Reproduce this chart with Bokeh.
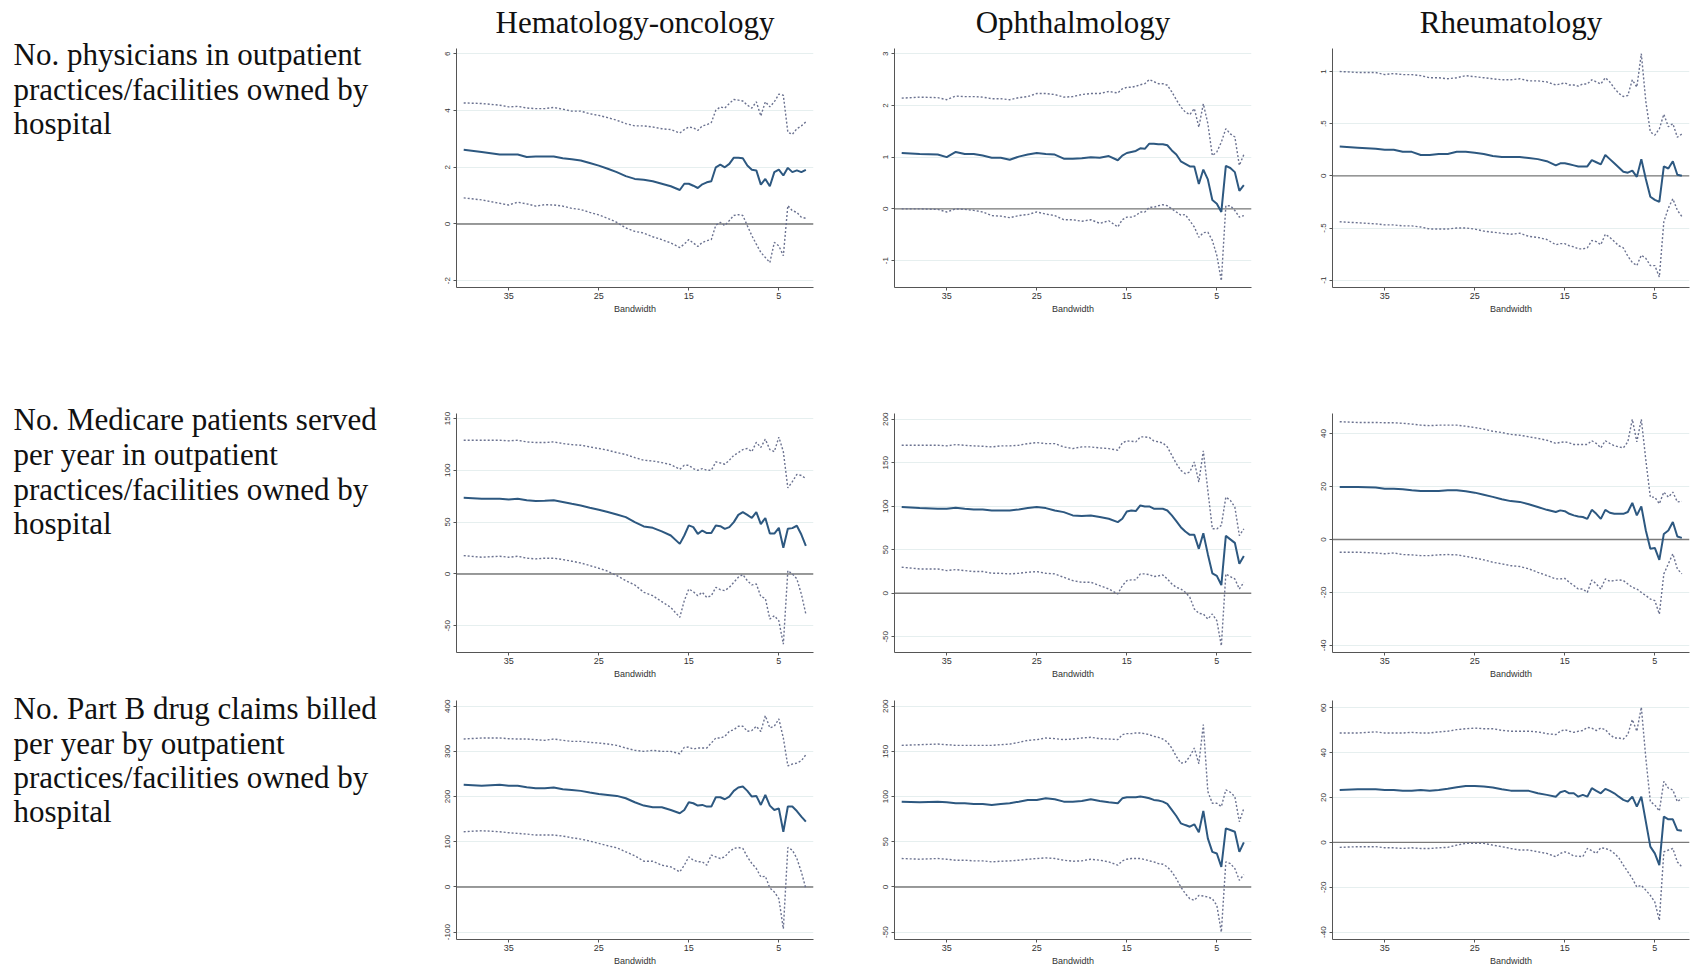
from bokeh.plotting import figure
from bokeh.layouts import row, column
from bokeh.models import Range1d, Span, Label, FixedTicker
from bokeh.embed import file_html
from bokeh.resources import INLINE

# ---------------- data ----------------
BANDWIDTH = [40, 38, 36, 35, 34, 33, 32, 31, 30, 29, 28, 27, 26, 25, 24, 23, 22, 21, 20, 19,
             18, 17, 16, 15.5, 15, 14.5, 14, 13.5, 13, 12.5, 12, 11.5, 11, 10.5, 10, 9.5, 9, 8.5,
             8, 7.5, 7, 6.5, 6, 5.5, 5, 4.5, 4, 3.5, 3, 2.5, 2]
X_TICKS = [35, 25, 15, 5]

COLUMN_TITLES = ["Hematology-oncology", "Ophthalmology", "Rheumatology"]
ROW_LABELS = [
    ["No. physicians in outpatient", "practices/facilities owned by", "hospital"],
    ["No. Medicare patients served", "per year in outpatient", "practices/facilities owned by", "hospital"],
    ["No. Part B drug claims billed", "per year by outpatient", "practices/facilities owned by", "hospital"],
]

# Row 1: physicians
HEM_PHYS_EST = [2.62, 2.54, 2.45, 2.45, 2.45, 2.36, 2.38, 2.38, 2.38, 2.32, 2.28, 2.24, 2.15, 2.06, 1.95,
                1.83, 1.69, 1.59, 1.56, 1.51, 1.42, 1.33, 1.20, 1.42, 1.42, 1.35, 1.27, 1.40, 1.47, 1.51,
                2.00, 2.09, 2.00, 2.12, 2.34, 2.34, 2.32, 2.06, 1.91, 1.89, 1.39, 1.59, 1.33, 1.83, 1.92,
                1.71, 1.98, 1.83, 1.89, 1.83, 1.91]
HEM_PHYS_UB = [4.27, 4.25, 4.19, 4.13, 4.15, 4.09, 4.07, 4.07, 4.11, 4.05, 3.98, 3.98, 3.89, 3.83, 3.75,
               3.66, 3.54, 3.46, 3.46, 3.42, 3.36, 3.33, 3.21, 3.33, 3.42, 3.39, 3.30, 3.46, 3.50, 3.58,
               4.01, 4.13, 4.09, 4.25, 4.39, 4.37, 4.34, 4.19, 4.09, 4.31, 3.81, 4.31, 4.13, 4.31, 4.58,
               4.54, 3.24, 3.16, 3.36, 3.46, 3.60]
HEM_PHYS_LB = [0.92, 0.85, 0.73, 0.67, 0.77, 0.71, 0.63, 0.68, 0.67, 0.63, 0.55, 0.51, 0.41, 0.32, 0.20,
               0.06, -0.14, -0.26, -0.32, -0.45, -0.55, -0.67, -0.83, -0.71, -0.55, -0.67, -0.79, -0.65,
               -0.59, -0.55, -0.04, 0.06, -0.06, 0.12, 0.30, 0.33, 0.30, -0.06, -0.41, -0.71, -1.00,
               -1.18, -1.36, -0.65, -0.77, -1.12, 0.65, 0.47, 0.41, 0.24, 0.20]

OPH_PHYS_EST = [1.08, 1.06, 1.05, 1.00, 1.10, 1.06, 1.06, 1.03, 0.99, 0.99, 0.95, 1.01, 1.05, 1.08, 1.06,
                1.05, 0.97, 0.97, 0.98, 1.00, 0.99, 1.02, 0.94, 1.03, 1.08, 1.10, 1.12, 1.17, 1.16, 1.26,
                1.26, 1.25, 1.25, 1.23, 1.13, 1.05, 0.92, 0.87, 0.82, 0.82, 0.48, 0.76, 0.57, 0.17, 0.10,
                -0.06, 0.83, 0.79, 0.71, 0.35, 0.46]
OPH_PHYS_UB = [2.14, 2.16, 2.15, 2.11, 2.18, 2.17, 2.17, 2.16, 2.13, 2.13, 2.11, 2.15, 2.17, 2.23, 2.23,
               2.21, 2.16, 2.17, 2.21, 2.23, 2.23, 2.27, 2.24, 2.32, 2.35, 2.35, 2.37, 2.40, 2.42, 2.50,
               2.46, 2.42, 2.42, 2.39, 2.26, 2.11, 1.97, 1.87, 1.82, 1.94, 1.58, 2.03, 1.65, 1.03, 1.10,
               1.29, 1.55, 1.45, 1.39, 0.84, 1.05]
OPH_PHYS_LB = [0.00, 0.00, -0.01, -0.06, 0.00, -0.01, -0.03, -0.06, -0.13, -0.14, -0.17, -0.13, -0.11,
               -0.06, -0.10, -0.13, -0.21, -0.21, -0.24, -0.21, -0.28, -0.23, -0.35, -0.21, -0.16, -0.16,
               -0.13, -0.06, -0.06, 0.03, 0.03, 0.06, 0.08, 0.06, 0.00, -0.06, -0.12, -0.11, -0.23, -0.35,
               -0.55, -0.46, -0.45, -0.61, -0.90, -1.39, 0.06, 0.06, -0.03, -0.16, -0.13]

RHE_PHYS_EST = [0.28, 0.27, 0.26, 0.25, 0.25, 0.23, 0.23, 0.20, 0.20, 0.21, 0.21, 0.23, 0.23, 0.22, 0.21,
                0.19, 0.18, 0.18, 0.18, 0.17, 0.16, 0.14, 0.10, 0.12, 0.12, 0.11, 0.10, 0.09, 0.09, 0.09,
                0.15, 0.13, 0.11, 0.20, 0.16, 0.12, 0.08, 0.04, 0.03, 0.05, -0.01, 0.16, -0.03, -0.20,
                -0.23, -0.25, 0.09, 0.07, 0.14, 0.01, 0.00]
RHE_PHYS_UB = [1.00, 0.99, 0.99, 0.97, 0.98, 0.97, 0.97, 0.96, 0.94, 0.94, 0.93, 0.94, 0.96, 0.95, 0.94,
               0.93, 0.92, 0.92, 0.93, 0.91, 0.91, 0.90, 0.87, 0.88, 0.89, 0.87, 0.87, 0.86, 0.88, 0.88,
               0.92, 0.90, 0.88, 0.94, 0.90, 0.84, 0.79, 0.76, 0.77, 0.92, 0.85, 1.17, 0.71, 0.42, 0.39,
               0.45, 0.59, 0.47, 0.50, 0.37, 0.40]
RHE_PHYS_LB = [-0.44, -0.45, -0.46, -0.47, -0.47, -0.48, -0.48, -0.49, -0.51, -0.51, -0.51, -0.50, -0.50,
               -0.51, -0.53, -0.54, -0.55, -0.56, -0.55, -0.58, -0.59, -0.61, -0.66, -0.65, -0.65, -0.67,
               -0.68, -0.70, -0.70, -0.69, -0.62, -0.63, -0.66, -0.56, -0.59, -0.63, -0.67, -0.69, -0.77,
               -0.83, -0.86, -0.76, -0.79, -0.86, -0.86, -0.97, -0.44, -0.31, -0.22, -0.33, -0.39]

# Row 2: Medicare patients
HEM_PAT_EST = [73.5, 72.6, 72.6, 71.9, 72.6, 71.0, 70.3, 70.6, 71.0, 69.4, 67.7, 66.1, 63.9, 61.9, 59.7,
               57.4, 54.8, 50.0, 45.8, 44.5, 41.0, 37.1, 29.0, 37.1, 46.8, 45.2, 38.7, 41.9, 39.4, 39.4,
               46.8, 46.1, 43.5, 45.2, 50.0, 57.0, 59.7, 57.0, 54.0, 59.7, 48.0, 54.0, 39.0, 39.0, 44.5,
               25.2, 43.5, 44.2, 46.5, 38.0, 27.0]
HEM_PAT_UB = [129.0, 129.0, 129.0, 128.4, 129.0, 127.4, 126.8, 126.8, 127.4, 125.8, 124.8, 124.2, 122.6,
              121.0, 119.4, 117.1, 115.2, 112.3, 109.7, 109.0, 107.4, 105.5, 101.0, 104.8, 104.8, 101.6,
              100.0, 101.6, 100.0, 100.0, 108.1, 107.1, 105.8, 109.7, 114.5, 117.0, 120.0, 121.0, 118.0,
              127.0, 122.0, 130.0, 120.0, 118.0, 132.0, 118.0, 83.0, 89.0, 96.0, 95.0, 92.0]
HEM_PAT_LB = [17.7, 16.1, 17.1, 16.1, 17.1, 15.2, 14.5, 15.2, 15.2, 13.9, 12.3, 10.6, 8.1, 5.5, 2.6,
              -1.6, -6.5, -10.6, -17.7, -21.0, -26.8, -32.3, -41.9, -25.8, -14.5, -17.1, -21.0, -17.7,
              -22.6, -21.0, -12.9, -15.2, -16.1, -12.9, -8.1, -3.2, -0.6, -6.5, -10.6, -9.7, -21.9,
              -23.5, -43.5, -40.3, -45.2, -67.7, 3.2, 0.0, -4.8, -19.4, -38.7]

OPH_PAT_EST = [99.1, 97.9, 97.2, 97.2, 98.3, 97.2, 96.4, 96.4, 95.2, 95.2, 95.2, 96.4, 97.9, 99.1, 97.9,
               95.2, 93.3, 89.5, 88.7, 89.5, 87.6, 85.6, 81.8, 85.6, 94.1, 95.2, 94.5, 101.0, 99.8, 99.8,
               97.2, 97.2, 97.2, 95.2, 89.5, 82.9, 76.0, 71.0, 67.2, 67.2, 51.1, 69.1, 45.0, 23.0, 20.0,
               9.5, 66.0, 62.0, 58.0, 34.0, 43.0]
OPH_PAT_UB = [170.1, 170.1, 170.1, 169.4, 170.9, 170.1, 169.4, 169.0, 168.2, 169.4, 169.4, 170.1, 172.0,
              173.2, 172.0, 172.0, 168.2, 166.3, 168.2, 168.2, 167.0, 166.3, 164.4, 172.8, 175.1, 174.7,
              174.0, 179.7, 179.7, 179.0, 175.1, 174.0, 172.8, 168.2, 158.6, 149.0, 141.3, 137.5, 139.4,
              150.9, 127.9, 163.6, 118.3, 74.1, 74.1, 78.0, 110.6, 106.8, 99.1, 66.4, 74.1]
OPH_PAT_LB = [30.0, 28.0, 28.0, 26.1, 27.3, 26.1, 25.0, 25.0, 23.0, 23.0, 22.3, 23.0, 24.2, 25.0, 23.0,
              22.3, 18.4, 14.6, 12.7, 12.7, 8.8, 5.0, -0.8, 8.8, 14.6, 15.4, 15.4, 22.3, 22.3, 21.5,
              19.2, 20.0, 21.1, 16.5, 10.8, 6.9, 5.0, 1.2, -4.6, -18.0, -23.0, -23.8, -29.6, -23.8,
              -31.5, -60.3, 22.3, 19.2, 16.5, 5.0, 12.7]

RHE_PAT_EST = [19.8, 19.8, 19.6, 19.2, 19.2, 19.0, 18.6, 18.3, 18.3, 18.3, 18.6, 18.6, 18.2, 17.7, 16.9,
               16.1, 15.2, 14.5, 14.2, 13.3, 12.3, 11.2, 10.4, 11.0, 10.7, 9.7, 9.1, 8.7, 8.5, 7.8,
               11.2, 9.7, 7.8, 11.2, 10.1, 9.7, 9.7, 9.7, 10.4, 13.8, 9.1, 12.5, 3.4, -3.5, -3.2,
               -7.7, 2.1, 3.4, 6.6, 1.1, 0.6]
RHE_PAT_UB = [44.5, 44.2, 44.2, 44.1, 44.1, 43.9, 43.6, 43.2, 43.0, 43.2, 43.2, 43.2, 42.8, 42.3, 41.7,
              40.9, 40.4, 39.7, 39.4, 38.8, 38.2, 37.5, 36.3, 36.7, 36.9, 36.5, 35.9, 35.9, 35.9, 35.9,
              37.3, 36.3, 34.6, 37.3, 36.3, 35.4, 35.0, 34.6, 36.9, 45.4, 36.9, 45.4, 30.0, 16.0, 16.0,
              13.5, 17.9, 16.0, 17.9, 14.2, 14.4]
RHE_PAT_LB = [-4.8, -4.8, -5.1, -5.4, -5.1, -5.7, -5.8, -6.1, -6.1, -5.8, -5.7, -5.8, -6.4, -7.0, -7.7,
              -8.6, -9.2, -9.9, -10.2, -11.1, -12.4, -13.6, -14.9, -14.9, -14.7, -16.2, -17.4, -18.7,
              -18.7, -20.0, -15.3, -16.8, -18.7, -14.9, -15.8, -15.5, -15.3, -15.5, -16.8, -18.1, -18.7,
              -20.0, -21.2, -22.5, -23.1, -28.2, -13.0, -9.2, -5.4, -11.1, -13.0]

# Row 3: Part B drug claims
HEM_CLM_EST = [225.9, 223.7, 225.9, 223.7, 223.7, 220.7, 218.5, 218.5, 220.0, 216.3, 214.8, 212.6, 208.9,
               205.9, 203.7, 201.5, 196.3, 187.4, 180.0, 176.3, 176.3, 170.4, 163.0, 170.4, 187.4, 185.2,
               180.0, 181.5, 177.8, 177.8, 198.5, 198.5, 194.1, 200.0, 212.6, 220.0, 222.2, 212.6, 200.0,
               201.5, 181.5, 203.7, 180.0, 170.4, 174.0, 122.2, 178.0, 178.0, 168.0, 155.6, 144.4]
HEM_CLM_UB = [327.4, 329.6, 329.6, 328.1, 327.4, 327.4, 325.9, 324.4, 327.4, 324.4, 322.2, 322.2, 320.0,
              318.5, 316.3, 313.3, 307.4, 302.2, 300.0, 302.2, 300.0, 300.0, 294.8, 308.9, 309.6, 305.2,
              307.4, 307.4, 307.4, 318.5, 329.6, 329.6, 333.3, 344.4, 348.0, 355.6, 355.6, 344.4, 346.0,
              355.6, 344.0, 379.0, 352.0, 355.6, 372.0, 329.6, 268.0, 272.0, 274.0, 279.3, 292.6]
HEM_CLM_LB = [122.2, 124.4, 122.2, 120.0, 118.5, 117.0, 114.8, 114.8, 114.8, 112.6, 108.9, 105.9, 101.5,
              96.3, 91.1, 86.7, 77.8, 68.9, 57.0, 57.0, 48.1, 44.4, 33.3, 48.1, 66.7, 59.3, 55.6, 55.6,
              48.1, 70.4, 66.7, 63.0, 66.7, 77.8, 85.2, 87.4, 85.2, 66.7, 51.9, 40.7, 22.2, 23.7, -2.2,
              -11.1, -25.9, -92.6, 87.4, 81.5, 63.0, 33.3, -3.7]

OPH_CLM_EST = [94.4, 93.7, 94.4, 93.7, 92.6, 92.6, 91.9, 91.9, 90.7, 91.9, 92.6, 94.4, 96.3, 96.3, 98.1,
               97.0, 94.4, 94.4, 95.2, 97.0, 95.2, 93.7, 92.6, 98.1, 99.3, 99.3, 99.3, 100.0, 99.3, 98.1,
               96.3, 95.6, 94.4, 91.9, 85.2, 78.5, 70.4, 68.5, 66.7, 69.3, 60.4, 84.1, 53.7, 38.9, 37.0,
               22.2, 64.8, 63.0, 61.1, 38.9, 49.3]
OPH_CLM_UB = [156.7, 157.4, 158.1, 157.4, 156.7, 156.7, 156.7, 156.7, 156.7, 157.4, 158.1, 160.0, 162.2,
              163.0, 164.8, 164.1, 163.0, 163.7, 164.8, 165.6, 164.1, 163.7, 163.0, 168.5, 169.6, 169.6,
              170.4, 170.4, 169.6, 168.5, 166.7, 165.6, 163.7, 160.4, 153.7, 144.4, 137.0, 138.0, 144.4,
              153.7, 136.3, 179.6, 105.6, 92.6, 92.6, 88.9, 107.4, 104.8, 100.0, 72.2, 87.0]
OPH_CLM_LB = [31.5, 30.7, 31.5, 30.7, 29.6, 29.6, 28.9, 28.9, 27.8, 28.5, 28.9, 29.6, 30.7, 31.5, 32.2,
              31.5, 29.6, 28.5, 28.9, 30.7, 29.6, 27.8, 24.1, 28.9, 30.7, 31.5, 31.5, 31.5, 30.4, 28.9,
              27.8, 25.9, 25.2, 22.2, 16.7, 9.3, 0.0, -7.4, -13.0, -14.8, -9.3, -10.0, -11.1, -13.0,
              -20.4, -50.0, 27.8, 25.9, 20.4, 7.4, 13.7]

RHE_CLM_EST = [23.4, 23.7, 23.7, 23.4, 23.4, 23.0, 23.0, 23.4, 23.0, 23.4, 23.9, 24.6, 25.2, 25.2, 24.9,
               24.5, 23.7, 23.1, 23.0, 23.0, 21.9, 21.2, 20.4, 22.4, 23.0, 21.9, 21.9, 20.4, 21.2, 20.4,
               24.2, 23.0, 21.9, 23.9, 23.0, 21.9, 20.4, 19.0, 18.2, 20.4, 16.0, 20.4, 9.3, -1.9, -4.9,
               -10.1, 11.5, 10.3, 10.3, 5.5, 5.2]
RHE_CLM_UB = [48.8, 48.8, 49.3, 48.8, 48.8, 48.8, 49.1, 48.8, 48.8, 49.3, 49.6, 50.3, 50.7, 51.0, 50.7,
              50.7, 50.0, 49.6, 49.6, 49.6, 49.3, 48.5, 48.1, 49.6, 50.3, 49.6, 49.1, 49.6, 49.9, 51.3,
              51.0, 49.9, 51.0, 50.3, 48.1, 46.6, 46.6, 46.1, 48.1, 54.8, 49.6, 60.3, 37.6, 18.2, 16.7,
              14.0, 27.2, 24.2, 23.4, 18.2, 19.7]
RHE_CLM_LB = [-2.2, -1.9, -1.9, -2.4, -2.4, -2.7, -2.4, -2.7, -2.7, -2.4, -2.2, -1.2, -0.4, -0.4, -0.4,
              -1.2, -1.9, -2.7, -3.4, -3.4, -4.2, -4.9, -6.4, -4.9, -4.2, -4.9, -6.1, -6.1, -6.4, -2.7,
              -3.7, -4.9, -2.4, -2.7, -3.4, -4.9, -6.9, -10.1, -13.1, -16.1, -19.9, -19.1, -21.3, -23.6,
              -26.6, -34.8, -4.2, -3.4, -2.7, -8.7, -10.9]

# y-axis ticks and labels per panel
Y_TICKS = {
    "hem_phys": ([-2, 0, 2, 4, 6], ["-2", "0", "2", "4", "6"]),
    "oph_phys": ([-1, 0, 1, 2, 3], ["-1", "0", "1", "2", "3"]),
    "rhe_phys": ([-1, -0.5, 0, 0.5, 1], ["-1", "-.5", "0", ".5", "1"]),
    "hem_pat": ([-50, 0, 50, 100, 150], ["-50", "0", "50", "100", "150"]),
    "oph_pat": ([-50, 0, 50, 100, 150, 200], ["-50", "0", "50", "100", "150", "200"]),
    "rhe_pat": ([-40, -20, 0, 20, 40], ["-40", "-20", "0", "20", "40"]),
    "hem_clm": ([-100, 0, 100, 200, 300, 400], ["-100", "0", "100", "200", "300", "400"]),
    "oph_clm": ([-50, 0, 50, 100, 150, 200], ["-50", "0", "50", "100", "150", "200"]),
    "rhe_clm": ([-40, -20, 0, 20, 40, 60], ["-40", "-20", "0", "20", "40", "60"]),
}
Y_RANGES = {
    "hem_phys": (-2.24, 6.19), "oph_phys": (-1.52, 3.10), "rhe_phys": (-1.07, 1.22),
    "hem_pat": (-75.8, 154.8), "oph_pat": (-68.0, 206.6), "rhe_pat": (-42.7, 47.6),
    "hem_clm": (-116.3, 412.6), "oph_clm": (-58.1, 206.3), "rhe_clm": (-43.3, 63.3),
}

# ---------------- styling ----------------
SERIF = "Liberation Serif"
SANS = "Liberation Sans"
EST_COLOR = "#2d5880"
CI_COLOR = "#6b7290"
FRAME_W, FRAME_H = 357, 239
LEFT_W = 411
TITLE_H = 40
BORDER_L, BORDER_R, BORDER_B = 45, 36, 32
ROW_TOPS = [8, 94, 16]
TOTAL_H = TITLE_H + sum(ROW_TOPS) + 3 * (FRAME_H + BORDER_B)


def blank_fig(w, h):
    f = figure(width=w, height=h, x_range=Range1d(0, w), y_range=Range1d(h, 0),
               output_backend="svg", toolbar_location=None, title_location=None,
               x_axis_location=None, y_axis_location=None, min_border=0,
               outline_line_color=None, border_fill_color="white", background_fill_color="white")
    f.grid.visible = False
    return f


def panel(key, est, ub, lb, top, right):
    ylo, yhi = Y_RANGES[key]
    ticks, labels = Y_TICKS[key]
    p = figure(frame_width=FRAME_W, frame_height=FRAME_H,
               x_range=Range1d(40.8, 1.15), y_range=Range1d(ylo, yhi),
               output_backend="svg", toolbar_location=None, title_location=None,
               min_border_left=BORDER_L, min_border_right=right,
               min_border_top=top, min_border_bottom=BORDER_B,
               background_fill_color="white", border_fill_color="white",
               outline_line_color=None)
    p.xgrid.visible = False
    p.ygrid.grid_line_color = "#e6efef"
    p.ygrid.grid_line_width = 1
    p.ygrid.ticker = FixedTicker(ticks=ticks)

    zero = Span(location=0, dimension="width", line_color="#7a7a7a", line_width=1.4, level="underlay")
    p.add_layout(zero)

    p.line(BANDWIDTH, ub, line_color=CI_COLOR, line_width=1.4, line_dash="2 2")
    p.line(BANDWIDTH, lb, line_color=CI_COLOR, line_width=1.4, line_dash="2 2")
    p.line(BANDWIDTH, est, line_color=EST_COLOR, line_width=2)

    xa = p.xaxis[0]
    xa.ticker = FixedTicker(ticks=X_TICKS)
    xa.axis_label = "Bandwidth"
    xa.axis_label_text_font = SANS
    xa.axis_label_text_font_style = "normal"
    xa.axis_label_text_font_size = "9px"
    xa.axis_label_text_color = "#333333"
    xa.axis_label_standoff = 2
    xa.major_label_text_font = SANS
    xa.major_label_text_font_size = "9px"
    xa.major_label_text_color = "#333333"
    xa.major_label_standoff = 2
    xa.major_tick_out = 3
    xa.major_tick_in = 0
    xa.minor_tick_out = 0
    xa.minor_tick_in = 0
    xa.axis_line_color = "#555555"
    xa.major_tick_line_color = "#555555"

    ya = p.yaxis[0]
    ya.ticker = FixedTicker(ticks=ticks)
    ya.major_label_overrides = {t: l for t, l in zip(ticks, labels)}
    ya.major_label_orientation = "vertical"
    ya.major_label_text_font = SANS
    ya.major_label_text_font_size = "8px"
    ya.major_label_text_color = "#333333"
    ya.major_label_standoff = 3
    ya.major_tick_out = 3
    ya.major_tick_in = 0
    ya.minor_tick_out = 0
    ya.minor_tick_in = 0
    ya.axis_line_color = "#555555"
    ya.major_tick_line_color = "#555555"
    return p


PANELS = [
    [("hem_phys", HEM_PHYS_EST, HEM_PHYS_UB, HEM_PHYS_LB),
     ("oph_phys", OPH_PHYS_EST, OPH_PHYS_UB, OPH_PHYS_LB),
     ("rhe_phys", RHE_PHYS_EST, RHE_PHYS_UB, RHE_PHYS_LB)],
    [("hem_pat", HEM_PAT_EST, HEM_PAT_UB, HEM_PAT_LB),
     ("oph_pat", OPH_PAT_EST, OPH_PAT_UB, OPH_PAT_LB),
     ("rhe_pat", RHE_PAT_EST, RHE_PAT_UB, RHE_PAT_LB)],
    [("hem_clm", HEM_CLM_EST, HEM_CLM_UB, HEM_CLM_LB),
     ("oph_clm", OPH_CLM_EST, OPH_CLM_UB, OPH_CLM_LB),
     ("rhe_clm", RHE_CLM_EST, RHE_CLM_UB, RHE_CLM_LB)],
]

rows = []
for r, specs in enumerate(PANELS):
    figs = []
    for c, (key, est, ub, lb) in enumerate(specs):
        right = BORDER_R if c < 2 else 7
        figs.append(panel(key, est, ub, lb, ROW_TOPS[r], right))
    rows.append(row(*figs, spacing=0))

right_w = 2 * (BORDER_L + FRAME_W + BORDER_R) + BORDER_L + FRAME_W + 7

# column titles
title_fig = blank_fig(right_w, TITLE_H)
for c, t in enumerate(COLUMN_TITLES):
    cx = c * (BORDER_L + FRAME_W + BORDER_R) + BORDER_L + FRAME_W / 2
    title_fig.add_layout(Label(x=cx, y=22, text=t, text_font=SERIF, text_font_size="31px",
                               text_align="center", text_baseline="alphabetic", text_color="#111111"))

# row labels
left_fig = blank_fig(LEFT_W, TOTAL_H)
ROW_BASELINES = [[54, 88.5, 123], [419, 454, 488.5, 523], [708, 742.5, 777, 811]]
for lines, bases in zip(ROW_LABELS, ROW_BASELINES):
    for txt, b in zip(lines, bases):
        left_fig.add_layout(Label(x=13, y=b, text=txt, text_font=SERIF, text_font_size="31px",
                                  text_align="left", text_baseline="alphabetic", text_color="#111111"))

layout = row(left_fig, column(title_fig, *rows, spacing=0), spacing=0)

open("out.html", "w").write(file_html(layout, INLINE))
